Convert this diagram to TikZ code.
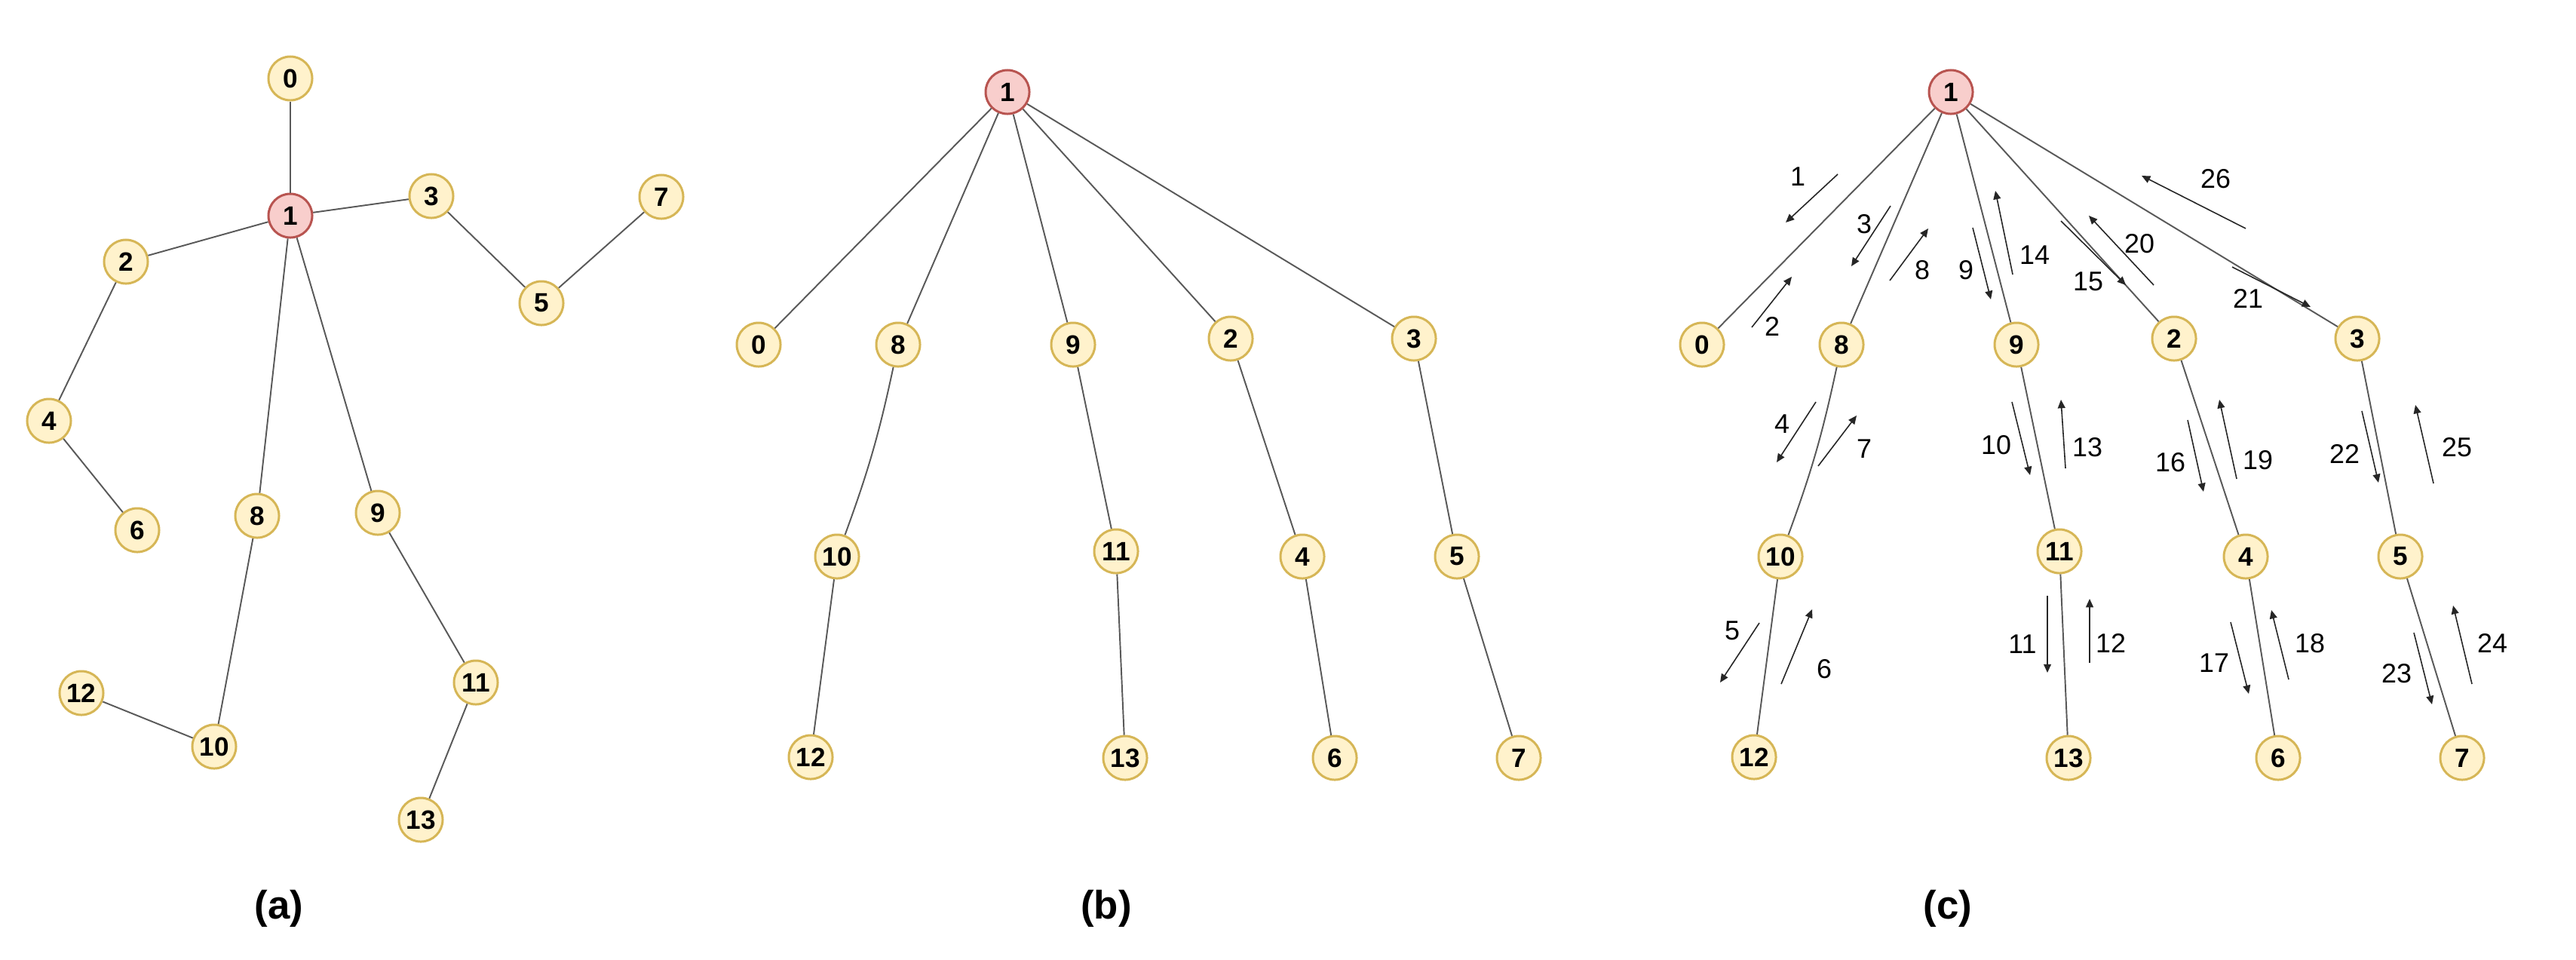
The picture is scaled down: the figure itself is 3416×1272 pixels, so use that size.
\documentclass[tikz,border=0pt]{standalone}
\usepackage{fontspec}
\setmainfont{Liberation Sans}
\usetikzlibrary{arrows.meta}
\definecolor{nfill}{HTML}{FFF2CC}
\definecolor{ndraw}{HTML}{D6B656}
\definecolor{rfill}{HTML}{F8CECC}
\definecolor{rdraw}{HTML}{B85450}
\newcommand{\walkarrow}[7]{%
  \coordinate (ws#1) at (#2,#3);
  \coordinate (we#1) at (#4,#5);
  \draw[walk] (ws#1) -- (we#1);
  \node[numlab] (wl#1) at (#6,#7) {#1};}
\begin{document}
\begin{tikzpicture}[x=0.01cm, y=-0.01cm,
  vert/.style={circle, draw=ndraw, fill=nfill, line width=0.85pt, minimum size=0.58cm, inner sep=0pt, font=\fontsize{10}{12}\selectfont\bfseries},
  root/.style={vert, draw=rdraw, fill=rfill},
  edge/.style={draw=black!65, line width=0.55pt},
  walk/.style={draw=black!85, line width=0.45pt, -{Triangle[length=3.2pt,width=2.8pt]}},
  numlab/.style={font=\fontsize{10.2}{12}\selectfont, inner sep=0pt},
  captionlbl/.style={font=\fontsize{15}{18}\selectfont\bfseries, inner sep=0pt}]
\useasboundingbox[fill=white] (0,0) rectangle (3416,1272);

% ---------- panel (a)
\node[root] (a1) at (385,286) {1};
\foreach \n/\x/\y in {0/385/104, 3/572/260, 7/877/261, 2/167/347, 5/718/402, 4/65/558, 6/182/703, 8/341/684, 9/501/680, 12/108/919, 10/284/990, 11/631/905, 13/558/1087}
  {\node[vert] (a\n) at (\x,\y) {\n};}
\foreach \p/\q in {1/0, 1/3, 1/2, 1/8, 1/9, 3/5, 5/7, 2/4, 4/6, 8/10, 10/12, 9/11, 11/13}
  {\draw[edge] (a\p) -- (a\q);}
\node[captionlbl] (capa) at (370,1205) {(a)};

% ---------- panels (b) and (c)
\node[root] (c1) at (2587,122) {1};
\node[root] (b1) at (2587-1251,122) {1};
\foreach \n/\x/\y in {0/2257/457, 8/2442/457, 9/2674/457, 2/2883/449, 3/3126/449, 10/2361/738, 11/2731/731, 4/2978/738, 5/3183/738, 12/2326/1004, 13/2743/1005, 6/3021/1005, 7/3265/1005}
  {\node[vert] (c\n) at (\x,\y) {\n};
   \node[vert] (b\n) at (\x-1251,\y) {\n};}
\foreach \p/\q in {1/0, 1/8, 1/9, 1/2, 1/3, 10/12, 9/11, 11/13, 2/4, 4/6, 3/5, 5/7}
  {\draw[edge] (b\p) -- (b\q);
   \draw[edge] (c\p) -- (c\q);}
\draw[edge] (b8) to[bend left=4] (b10);
\draw[edge] (c8) to[bend left=4] (c10);
\node[captionlbl] (capb) at (1467,1205) {(b)};
\node[captionlbl] (capc) at (2583,1205) {(c)};

% ---------- walk arrows of panel (c)
\walkarrow{1}{2437}{231}{2368}{295}{2384}{234}
\walkarrow{2}{2323}{434}{2376}{367}{2350}{433}
\walkarrow{3}{2507}{273}{2455}{353}{2472}{297}
\walkarrow{8}{2506}{372}{2557}{303}{2549}{358}
\walkarrow{9}{2616}{302}{2640}{397}{2607}{358}
\walkarrow{14}{2669}{364}{2646}{253}{2698}{338}
\walkarrow{15}{2733}{293}{2819}{378}{2769}{373}
\walkarrow{20}{2856}{378}{2770}{286}{2837}{323}
\walkarrow{21}{2960}{354}{3064}{407}{2981}{396}
\walkarrow{26}{2978}{303}{2840}{233}{2938}{237}
\walkarrow{4}{2408}{533}{2356}{613}{2363}{562}
\walkarrow{7}{2411}{618}{2462}{551}{2472}{595}
\walkarrow{5}{2333}{826}{2281}{905}{2297}{836}
\walkarrow{6}{2362}{907}{2403}{808}{2419}{887}
\walkarrow{10}{2668}{533}{2692}{630}{2647}{590}
\walkarrow{13}{2739}{621}{2733}{530}{2768}{593}
\walkarrow{11}{2715}{790}{2715}{892}{2682}{854}
\walkarrow{12}{2771}{879}{2771}{794}{2799}{853}
\walkarrow{16}{2901}{557}{2922}{652}{2878}{613}
\walkarrow{19}{2966}{635}{2943}{530}{2994}{610}
\walkarrow{22}{3132}{545}{3154}{640}{3109}{602}
\walkarrow{25}{3227}{641}{3203}{537}{3258}{593}
\walkarrow{17}{2958}{825}{2982}{920}{2936}{879}
\walkarrow{18}{3035}{901}{3012}{809}{3063}{853}
\walkarrow{23}{3201}{839}{3225}{934}{3178}{893}
\walkarrow{24}{3278}{907}{3253}{803}{3305}{853}
\end{tikzpicture}
\end{document}
